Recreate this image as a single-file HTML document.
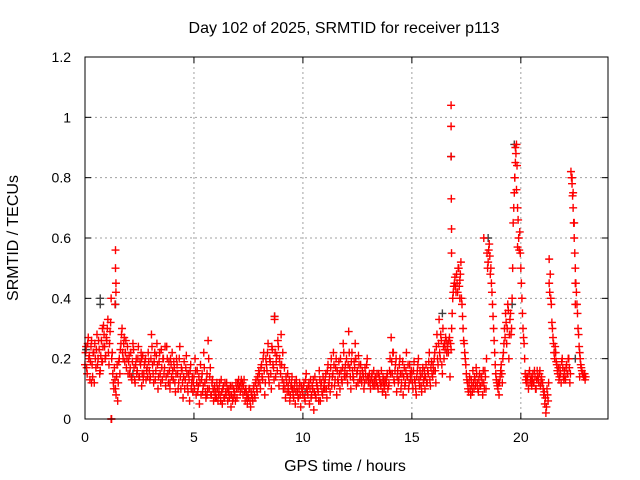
<!DOCTYPE html>
<html><head><meta charset="utf-8"><style>
html,body{margin:0;padding:0;background:#fff}
svg{display:block;font-family:"Liberation Sans",sans-serif}
</style></head><body>
<svg id="chart" width="640" height="480" xmlns="http://www.w3.org/2000/svg">
<rect x="0" y="0" width="640" height="480" fill="#fff"/>
<text x="344" y="33" font-size="16" text-anchor="middle">Day 102 of 2025, SRMTID for receiver p113</text>
<text x="0" y="0" font-size="16" text-anchor="middle" transform="translate(18,238) rotate(-90)">SRMTID / TECUs</text>
<text x="345" y="471" font-size="16" text-anchor="middle">GPS time / hours</text>
<g id="grid"></g>
<g id="ticks"></g>
<g id="gray"></g>
<g id="red"></g>
<rect x="85" y="57" width="523" height="362" fill="none" stroke="#000" stroke-width="1"/>
</svg>
<script>
const xTicks=[0,5,10,15,20];
const yTicks=[0,0.2,0.4,0.6,0.8,1,1.2];
const yTickLabels=["0","0.2","0.4","0.6","0.8","1","1.2"];
const seriesStart=0;
const seriesStep=0.05;
const series2Start=0.025;
const redValues=[
.18,.24,.15,.27,.21,.19,.26,.14,.22,.25,.17,.28,.2,.23,.16,.26,.19,.31,.24,.21,
.26,.33,.18,.29,.4,.22,.12,.17,.1,.14,.06,.19,.15,.25,.3,.2,.27,.22,.17,.24,
.19,.15,.22,.13,.25,.17,.12,.2,.16,.24,.14,.18,.11,.21,.15,.19,.13,.17,.22,.16,
.14,.28,.18,.12,.22,.16,.25,.1,.19,.15,.23,.13,.2,.17,.11,.24,.15,.19,.12,.18,
.22,.13,.17,.09,.2,.15,.12,.24,.1,.16,.07,.19,.13,.21,.11,.15,.06,.18,.12,.09,
.14,.2,.08,.16,.11,.05,.18,.13,.09,.22,.12,.07,.15,.26,.1,.17,.08,.13,.06,.11,
.09,.12,.06,.1,.08,.13,.05,.11,.07,.09,.12,.06,.1,.08,.04,.11,.07,.09,.06,.1,
.12,.13,.11,.12,.1,.08,.13,.06,.09,.05,.07,.1,.04,.08,.06,.11,.07,.13,.09,.12,
.15,.1,.18,.13,.22,.08,.2,.16,.25,.12,.19,.1,.23,.17,.34,.14,.21,.26,.11,.18,
.28,.13,.1,.17,.07,.12,.15,.09,.06,.11,.14,.08,.1,.05,.13,.09,.07,.12,.04,.1,
.08,.12,.06,.15,.09,.11,.05,.13,.08,.1,.03,.14,.07,.11,.09,.16,.06,.12,.08,.1,
.1,.15,.07,.18,.12,.09,.2,.14,.22,.11,.17,.08,.13,.19,.1,.16,.12,.25,.14,.18,
.2,.12,.29,.17,.1,.22,.14,.19,.25,.11,.16,.21,.13,.18,.12,.15,.1,.17,.13,.2,
.12,.15,.1,.14,.12,.16,.11,.13,.15,.1,.14,.12,.16,.09,.13,.11,.08,.14,.1,.12,
.2,.27,.15,.22,.12,.18,.09,.16,.13,.2,.1,.15,.08,.17,.12,.22,.14,.1,.18,.13,
.15,.1,.19,.12,.08,.16,.2,.11,.14,.09,.17,.13,.1,.18,.12,.15,.22,.11,.19,.14,
.16,.22,.12,.28,.18,.33,.2,.26,.15,.24,.25,.27,.22,.25,.26,.14,.23,.35,.42,.45,
.44,.48,.42,.5,.46,.52,.38,.3,.25,.2,.15,.12,.09,.14,.08,.11,.16,.1,.13,.17,
.12,.09,.15,.11,.14,.08,.12,.16,.1,.55,.52,.58,.48,.45,.38,.3,.22,.15,.12,.1,
.08,.14,.18,.12,.22,.3,.35,.25,.38,.2,.33,.28,.4,.65,.75,.85,.91,.7,.6,.62,
.5,.4,.3,.25,.15,.12,.14,.1,.16,.13,.11,.15,.12,.14,.1,.16,.13,.15,.11,.14,
.12,.08,.05,.02,.1,.06,.53,.48,.38,.3,.25,.2,.22,.18,.15,.13,.17,.12,.2,.14,
.16,.13,.18,.15,.2,.12,.82,.78,.7,.6,.5,.42,.35,.28,.22,.18,.16,.15,.14,.13];
const redValues2=[
.22,.17,.25,.2,.13,.24,.18,.22,.12,.2,.23,.18,.26,.15,.21,.19,.24,.28,.2,.27,
.3,.22,.25,.32,.2,.15,.1,.13,.08,.18,.12,.2,.23,.28,.22,.25,.19,.26,.2,.15,
.21,.17,.14,.19,.23,.13,.18,.15,.2,.14,.19,.22,.15,.13,.18,.2,.16,.14,.19,.13,
.2,.24,.15,.19,.13,.21,.18,.14,.22,.12,.17,.2,.15,.24,.14,.2,.12,.16,.2,.14,
.16,.19,.12,.15,.18,.1,.2,.14,.17,.12,.14,.1,.17,.15,.09,.13,.16,.1,.14,.12,
.1,.16,.12,.09,.14,.12,.08,.15,.11,.17,.09,.13,.1,.2,.14,.08,.12,.1,.09,.07,
.07,.1,.08,.12,.06,.09,.1,.07,.12,.08,.1,.09,.07,.11,.08,.06,.1,.08,.12,.07,
.1,.11,.09,.13,.12,.11,.09,.1,.07,.08,.1,.06,.09,.07,.1,.08,.12,.1,.14,.16,
.12,.17,.14,.2,.16,.12,.18,.22,.14,.2,.15,.24,.18,.13,.22,.19,.16,.24,.2,.15,
.18,.22,.12,.1,.14,.09,.11,.13,.08,.12,.1,.07,.12,.09,.11,.07,.1,.08,.11,.09,
.11,.07,.13,.1,.08,.12,.1,.07,.11,.13,.09,.08,.12,.1,.06,.13,.11,.09,.14,.12,
.13,.1,.16,.11,.14,.17,.11,.15,.18,.13,.2,.16,.12,.15,.2,.13,.17,.22,.16,.14,
.15,.18,.22,.14,.19,.16,.13,.17,.2,.15,.12,.18,.15,.13,.16,.14,.12,.15,.18,.14,
.14,.12,.13,.15,.11,.13,.14,.12,.11,.15,.13,.11,.12,.14,.1,.13,.12,.15,.11,.16,
.15,.19,.22,.13,.16,.2,.14,.12,.18,.15,.12,.19,.14,.11,.16,.14,.18,.12,.15,.16,
.12,.16,.13,.1,.14,.18,.13,.16,.11,.15,.12,.16,.14,.12,.16,.19,.13,.17,.15,.18,
.2,.16,.24,.2,.25,.22,.28,.18,.3,.2,.23,.26,.24,.22,.27,.25,.3,.4,.44,.47,
.42,.45,.5,.44,.48,.4,.34,.26,.22,.18,.13,.1,.12,.1,.13,.09,.12,.14,.11,.15,
.1,.13,.11,.14,.12,.16,.1,.14,.2,.5,.56,.54,.5,.42,.34,.26,.18,.13,.11,.12,
.12,.16,.15,.2,.25,.27,.32,.3,.36,.28,.35,.3,.5,.7,.8,.88,.84,.66,.56,.55,
.45,.35,.27,.2,.13,.14,.12,.15,.12,.14,.13,.12,.16,.1,.13,.14,.12,.16,.13,.12,
.1,.09,.07,.04,.08,.12,.42,.4,.32,.27,.22,.24,.19,.16,.17,.14,.15,.19,.17,.13,
.14,.17,.15,.2,.17,.15,.8,.74,.65,.55,.45,.38,.3,.24,.2,.17,.15,.14,.15,.14];
const extraTimes=[1.4,1.4,1.42,1.42,1.38,16.8,16.8,16.8,16.81,16.82,16.82,19.75,19.72,19.8,19.85,22.35,22.4,22.45,22.5,22.5,1.2,1.22,0.8,8.7,18.3,21.3,0.3,2.6,3.9,5.6,9.5,12.3,13.7,15.6,17.2,20.5,21.8,22.7];
const extraValues=[.56,.5,.45,.42,.38,1.04,.97,.87,.73,.63,.55,.9,.8,.76,.57,.8,.75,.65,.45,.38,0,0,.3,.33,.6,.45,.12,.2,.1,.08,.1,.14,.12,.14,.4,.12,.15,.14];
const grayTimes=[0.7,0.7,1.4,16.8,19.7,18.5,8.7,19.6,0.05,22.5,16.4,2.2,10.1];
const grayValues=[.4,.38,.38,.87,.91,.6,.34,.38,.23,.2,.35,.15,.09];

const X0=85,X1=608,Y0=419,Y1=57,XMAX=24,YMAX=1.2;
const sx=t=>X0+t/XMAX*(X1-X0);
const sy=v=>Y0-v/YMAX*(Y0-Y1);
const NS="http://www.w3.org/2000/svg";
function mk(tag,attrs,parent){const e=document.createElementNS(NS,tag);for(const k in attrs)e.setAttribute(k,attrs[k]);parent.appendChild(e);return e;}
const grid=document.getElementById('grid'),ticks=document.getElementById('ticks');
xTicks.forEach(t=>{
  const x=sx(t);
  if(t>0){const g=mk('line',{x1:x,y1:Y1,x2:x,y2:Y0,stroke:'#a0a0a0','stroke-dasharray':'2,3'},grid);
  
  }
  mk('line',{x1:x,y1:Y0,x2:x,y2:Y0-6,stroke:'#000'},ticks);
  mk('line',{x1:x,y1:Y1,x2:x,y2:Y1+6,stroke:'#000'},ticks);
  const l=mk('text',{x:x,y:Y0+23,'font-size':14,'text-anchor':'middle'},ticks);
  l.textContent=t;
  
  
});
yTicks.forEach((v,i)=>{
  const y=sy(v);
  if(v>0&&v<YMAX){const g=mk('line',{x1:X0,y1:y,x2:X1,y2:y,stroke:'#a0a0a0','stroke-dasharray':'2,3'},grid);
  
  }
  mk('line',{x1:X0,y1:y,x2:X0+6,y2:y,stroke:'#000'},ticks);
  mk('line',{x1:X1,y1:y,x2:X1-6,y2:y,stroke:'#000'},ticks);
  const l=mk('text',{x:71,y:y+5,'font-size':14,'text-anchor':'end'},ticks);
  l.textContent=yTickLabels[i];
  
  
});
function plus(g,t,v,color){
  const x=sx(t),y=sy(v);
  const p=mk('path',{d:`M${x-4},${y}h8M${x},${y-4}v8`,stroke:color,'stroke-width':1.4,fill:'none'},g);
  
  
}
const gGray=document.getElementById('gray'),gRed=document.getElementById('red');
grayTimes.forEach((t,i)=>plus(gGray,t,grayValues[i],'#404040'));
redValues.forEach((v,i)=>plus(gRed,seriesStart+i*seriesStep,v,'#ff0000'));
redValues2.forEach((v,i)=>plus(gRed,series2Start+i*seriesStep,v,'#ff0000'));
extraTimes.forEach((t,i)=>plus(gRed,t,extraValues[i],'#ff0000'));
</script>
</body></html>
